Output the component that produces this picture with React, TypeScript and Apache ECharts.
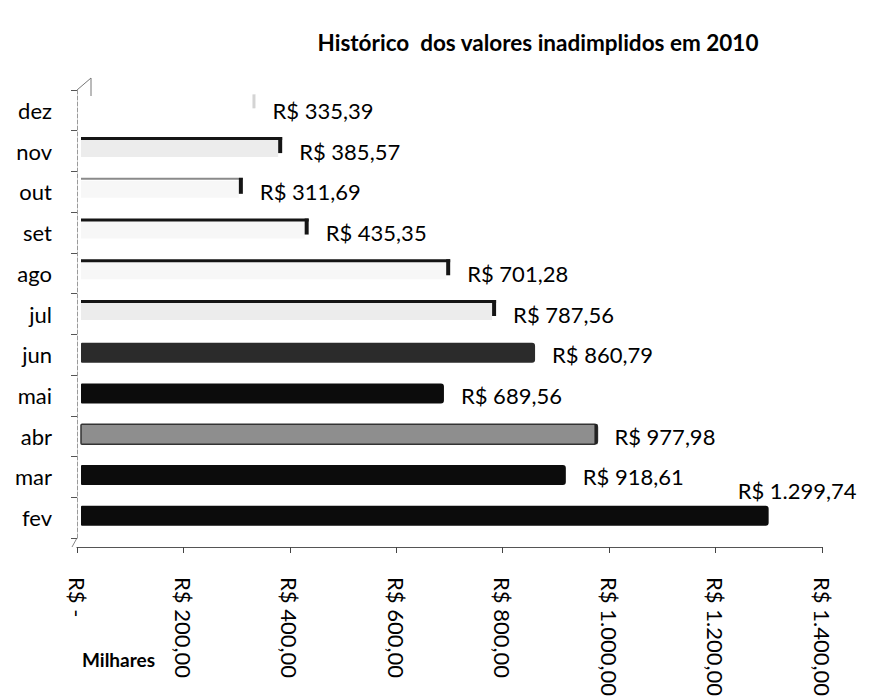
import React, { useEffect, useRef } from "react";
import * as echarts from "echarts";

// Categories (bottom to top, as ECharts draws a category y axis)
const MONTHS = ["fev", "mar", "abr", "mai", "jun", "jul", "ago", "set", "out", "nov", "dez"];
// Values in milhares (R$)
const VALUES = [1299.74, 918.61, 977.98, 689.56, 860.79, 787.56, 701.28, 435.35, 311.69, 385.57, 335.39];
// Axis range
const X_MIN = 0;
const X_MAX = 1400;
const X_STEP = 200;

const TITLE = "Histórico  dos valores inadimplidos em 2010";
const UNIT_LABEL = "Milhares";

// Bar look per month (scan of an Excel 3D chart)
const BAR_LOOK: Record<string, string> = {
  fev: "black",
  mar: "black",
  abr: "gray",
  mai: "black",
  jun: "dark",
  jul: "outlineFill",
  ago: "outline",
  set: "outline",
  out: "outlineDotted",
  nov: "outlineFill",
  dez: "faint",
};

const FONT = "Lato, 'Open Sans', 'DejaVu Sans', sans-serif";

const fmtBR = (v: number) => {
  const [i, d] = v.toFixed(2).split(".");
  return i.replace(/\B(?=(\d{3})+(?!\d))/g, ".") + "," + d;
};

export default function App() {
  const ref = useRef<HTMLDivElement>(null);

  useEffect(() => {
    if (!ref.current) return;
    const chart = echarts.init(ref.current, undefined, { renderer: "svg" });

    const renderItem = (params: any, api: any) => {
      const idx = api.value(1) as number;
      const v = api.value(0) as number;
      const p0 = api.coord([0, idx]);
      const p1 = api.coord([v, idx]);
      const cy = p1[1];
      const x0 = p0[0] + 4;
      const x1 = p1[0];
      const look = BAR_LOOK[MONTHS[idx]];
      const children: any[] = [];
      if (look === "black" || look === "dark" || look === "gray") {
        const fill = look === "black" ? "#0c0c0c" : look === "dark" ? "#2b2b2b" : "#8e8e8e";
        children.push({
          type: "rect",
          shape: { x: x0, y: cy - 12, width: x1 - x0, height: 20, r: [1, 3, 3, 1] },
          style: { fill, stroke: look === "gray" ? "#333" : null, lineWidth: 1.5 },
        });
        if (look === "gray") {
          children.push({
            type: "rect",
            shape: { x: x1 - 3, y: cy - 12, width: 3, height: 20 },
            style: { fill: "#222" },
          });
        }
      } else if (look === "faint") {
        children.push({
          type: "rect",
          shape: { x: x1 - 3, y: cy - 16, width: 3, height: 14 },
          style: { fill: "#d4d4d4" },
        });
      } else {
        const lightFill = look === "outlineFill" ? "#ececec" : "#f7f7f7";
        children.push({
          type: "rect",
          shape: { x: x0, y: cy - 11, width: x1 - x0 - 4, height: 17 },
          style: { fill: lightFill },
        });
        children.push({
          type: "rect",
          shape: { x: x0, y: cy - 14, width: x1 - x0, height: look === "outlineDotted" ? 2 : 3 },
          style: { fill: look === "outlineDotted" ? "#8a8a8a" : "#151515" },
        });
        children.push({
          type: "rect",
          shape: { x: x1 - 4, y: cy - 14, width: 4, height: 16 },
          style: { fill: "#151515" },
        });
      }
      const text = "R$ " + fmtBR(v);
      const overflow = x1 + 17 + 128 > 868;
      children.push({
        type: "text",
        x: overflow ? x1 - 31 : x1 + 17,
        y: overflow ? cy - 27 : cy,
        style: {
          text,
          fill: "#000",
          fontSize: 22,
          fontFamily: FONT,
          align: "left",
          verticalAlign: "middle",
        },
      });
      return { type: "group", children };
    };

    chart.setOption({
      animation: false,
      backgroundColor: "#ffffff",
      title: {
        text: TITLE,
        left: 533,
        top: 26,
        textAlign: "center",
        textStyle: { fontFamily: FONT, fontSize: 22.5, fontWeight: "bold", color: "#000" },
      },
      grid: { left: 77, right: 48, top: 90, bottom: 162, containLabel: false },
      xAxis: {
        type: "value",
        min: X_MIN,
        max: X_MAX,
        interval: X_STEP,
        offset: 9,
        axisLine: { show: true, lineStyle: { color: "#555", width: 1.2 } },
        axisTick: { show: true, length: 6, lineStyle: { color: "#444" } },
        splitLine: { show: false },
        axisLabel: {
          rotate: -90,
          margin: 30,
          fontFamily: FONT,
          fontSize: 22,
          color: "#000",
          formatter: (v: number) => (v === 0 ? "R$ -" : "R$ " + fmtBR(v)),
        },
      },
      yAxis: {
        type: "category",
        data: MONTHS,
        axisLine: { show: true, lineStyle: { color: "#9a9a9a", type: "dashed", width: 1 } },
        axisTick: { show: true, length: 6, lineStyle: { color: "#555" } },
        axisLabel: { fontFamily: FONT, fontSize: 22, color: "#000", margin: 25 },
      },
      graphic: [
        {
          type: "text",
          left: 82,
          top: 650,
          style: { text: UNIT_LABEL, fontFamily: FONT, fontSize: 19, fontWeight: "bold", fill: "#000" },
        },
        {
          type: "polyline",
          shape: { points: [[77, 90], [91, 78], [91, 96]] },
          style: { stroke: "#777", lineWidth: 1, fill: null },
        },
        {
          type: "line",
          shape: { x1: 77, y1: 538, x2: 72, y2: 547 },
          style: { stroke: "#888", lineWidth: 1 },
        },
      ],
      series: [
        {
          type: "custom",
          renderItem,
          encode: { x: 0, y: 1 },
          data: VALUES.map((v, i) => [v, i]),
          clip: false,
        },
      ],
    });

    return () => chart.dispose();
  }, []);

  return (
    <div
      ref={ref}
      style={{ position: "fixed", left: 0, top: 0, width: 870, height: 700, background: "#fff" }}
    />
  );
}
